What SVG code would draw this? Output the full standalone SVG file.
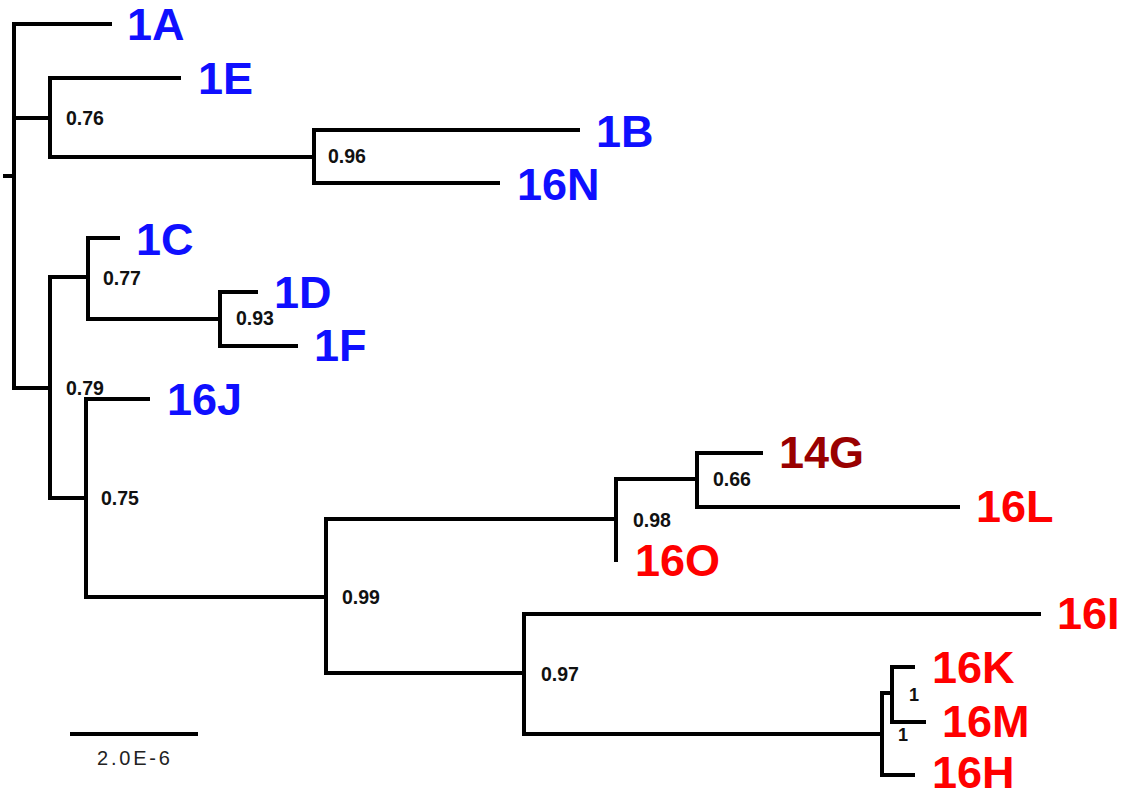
<svg xmlns="http://www.w3.org/2000/svg" width="1123" height="796" viewBox="0 0 1123 796">
<style>
.br{fill:none;stroke:#000;stroke-width:4;stroke-linejoin:miter;stroke-linecap:butt}
.tip{font-family:"Liberation Sans",Arial,sans-serif;font-weight:bold;font-size:45px}
.blue{fill:#0f0fff}
.red{fill:#ff0000}
.dred{fill:#990000}
.sup{font-family:"Liberation Sans",Arial,sans-serif;font-weight:bold;font-size:19.5px;fill:#111}
.one{font-family:"Liberation Sans",Arial,sans-serif;font-weight:bold;font-size:18px;fill:#111}
.scale{font-family:"Liberation Sans",Arial,sans-serif;font-size:20px;fill:#222;letter-spacing:2.8px}
</style>
<rect width="1123" height="796" fill="#fff"/>
<g id="connectors" class="br">
<path d="M3 176 H14"/>
<path d="M112 24 H14 V388 H50"/>
<path d="M14 118 H50"/>
<path d="M181 78 H50 V157 H314"/>
<path d="M580 130 H314 V183 H500"/>
<path d="M88 277 H50 V498 H86"/>
<path d="M120 238 H88 V319 H220"/>
<path d="M258 292 H220 V346 H298"/>
<path d="M150 399 H86 V597 H326"/>
<path d="M616 519 H326 V673 H524"/>
<path d="M697 479 H616 V562"/>
<path d="M763 453 H697 V507 H960"/>
<path d="M1041 614 H524 V734 H882"/>
<path d="M892 693 H882 V775 H915"/>
<path d="M915 667 H892 V722 H926"/>
</g>
<g id="tip-1A"><text class="tip blue" x="127" y="40">1A</text></g>
<g id="tip-1E"><text class="tip blue" x="198" y="94">1E</text></g>
<g id="tip-1B"><text class="tip blue" x="596" y="147">1B</text></g>
<g id="tip-16N"><text class="tip blue" x="517" y="200">16N</text></g>
<g id="tip-1C"><text class="tip blue" x="136" y="255">1C</text></g>
<g id="tip-1D"><text class="tip blue" x="274" y="308">1D</text></g>
<g id="tip-1F"><text class="tip blue" x="314" y="361">1F</text></g>
<g id="tip-16J"><text class="tip blue" x="167" y="415">16J</text></g>
<g id="tip-14G"><text class="tip dred" x="779" y="468">14G</text></g>
<g id="tip-16L"><text class="tip red" x="976" y="522">16L</text></g>
<g id="tip-16O"><text class="tip red" x="635" y="576">16O</text></g>
<g id="tip-16I"><text class="tip red" x="1057" y="629">16I</text></g>
<g id="tip-16K"><text class="tip red" x="932" y="683">16K</text></g>
<g id="tip-16M"><text class="tip red" x="942" y="737">16M</text></g>
<g id="tip-16H"><text class="tip red" x="932" y="788">16H</text></g>
<g id="node-076"><text class="sup" x="66" y="125">0.76</text></g>
<g id="node-096"><text class="sup" x="328" y="163">0.96</text></g>
<g id="node-077"><text class="sup" x="103" y="285">0.77</text></g>
<g id="node-093"><text class="sup" x="236" y="325">0.93</text></g>
<g id="node-079"><text class="sup" x="66" y="395">0.79</text></g>
<g id="node-075"><text class="sup" x="101" y="505">0.75</text></g>
<g id="node-099"><text class="sup" x="342" y="604">0.99</text></g>
<g id="node-066"><text class="sup" x="713" y="486">0.66</text></g>
<g id="node-098"><text class="sup" x="633" y="527">0.98</text></g>
<g id="node-097"><text class="sup" x="541" y="681">0.97</text></g>
<g id="node-1a"><text class="one" x="909" y="701">1</text></g>
<g id="node-1b"><text class="one" x="898" y="741">1</text></g>
<g id="scalebar">
<path class="br" d="M70 734 H198"/>
<text class="scale" x="97" y="765">2.0E-6</text>
</g>
</svg>
